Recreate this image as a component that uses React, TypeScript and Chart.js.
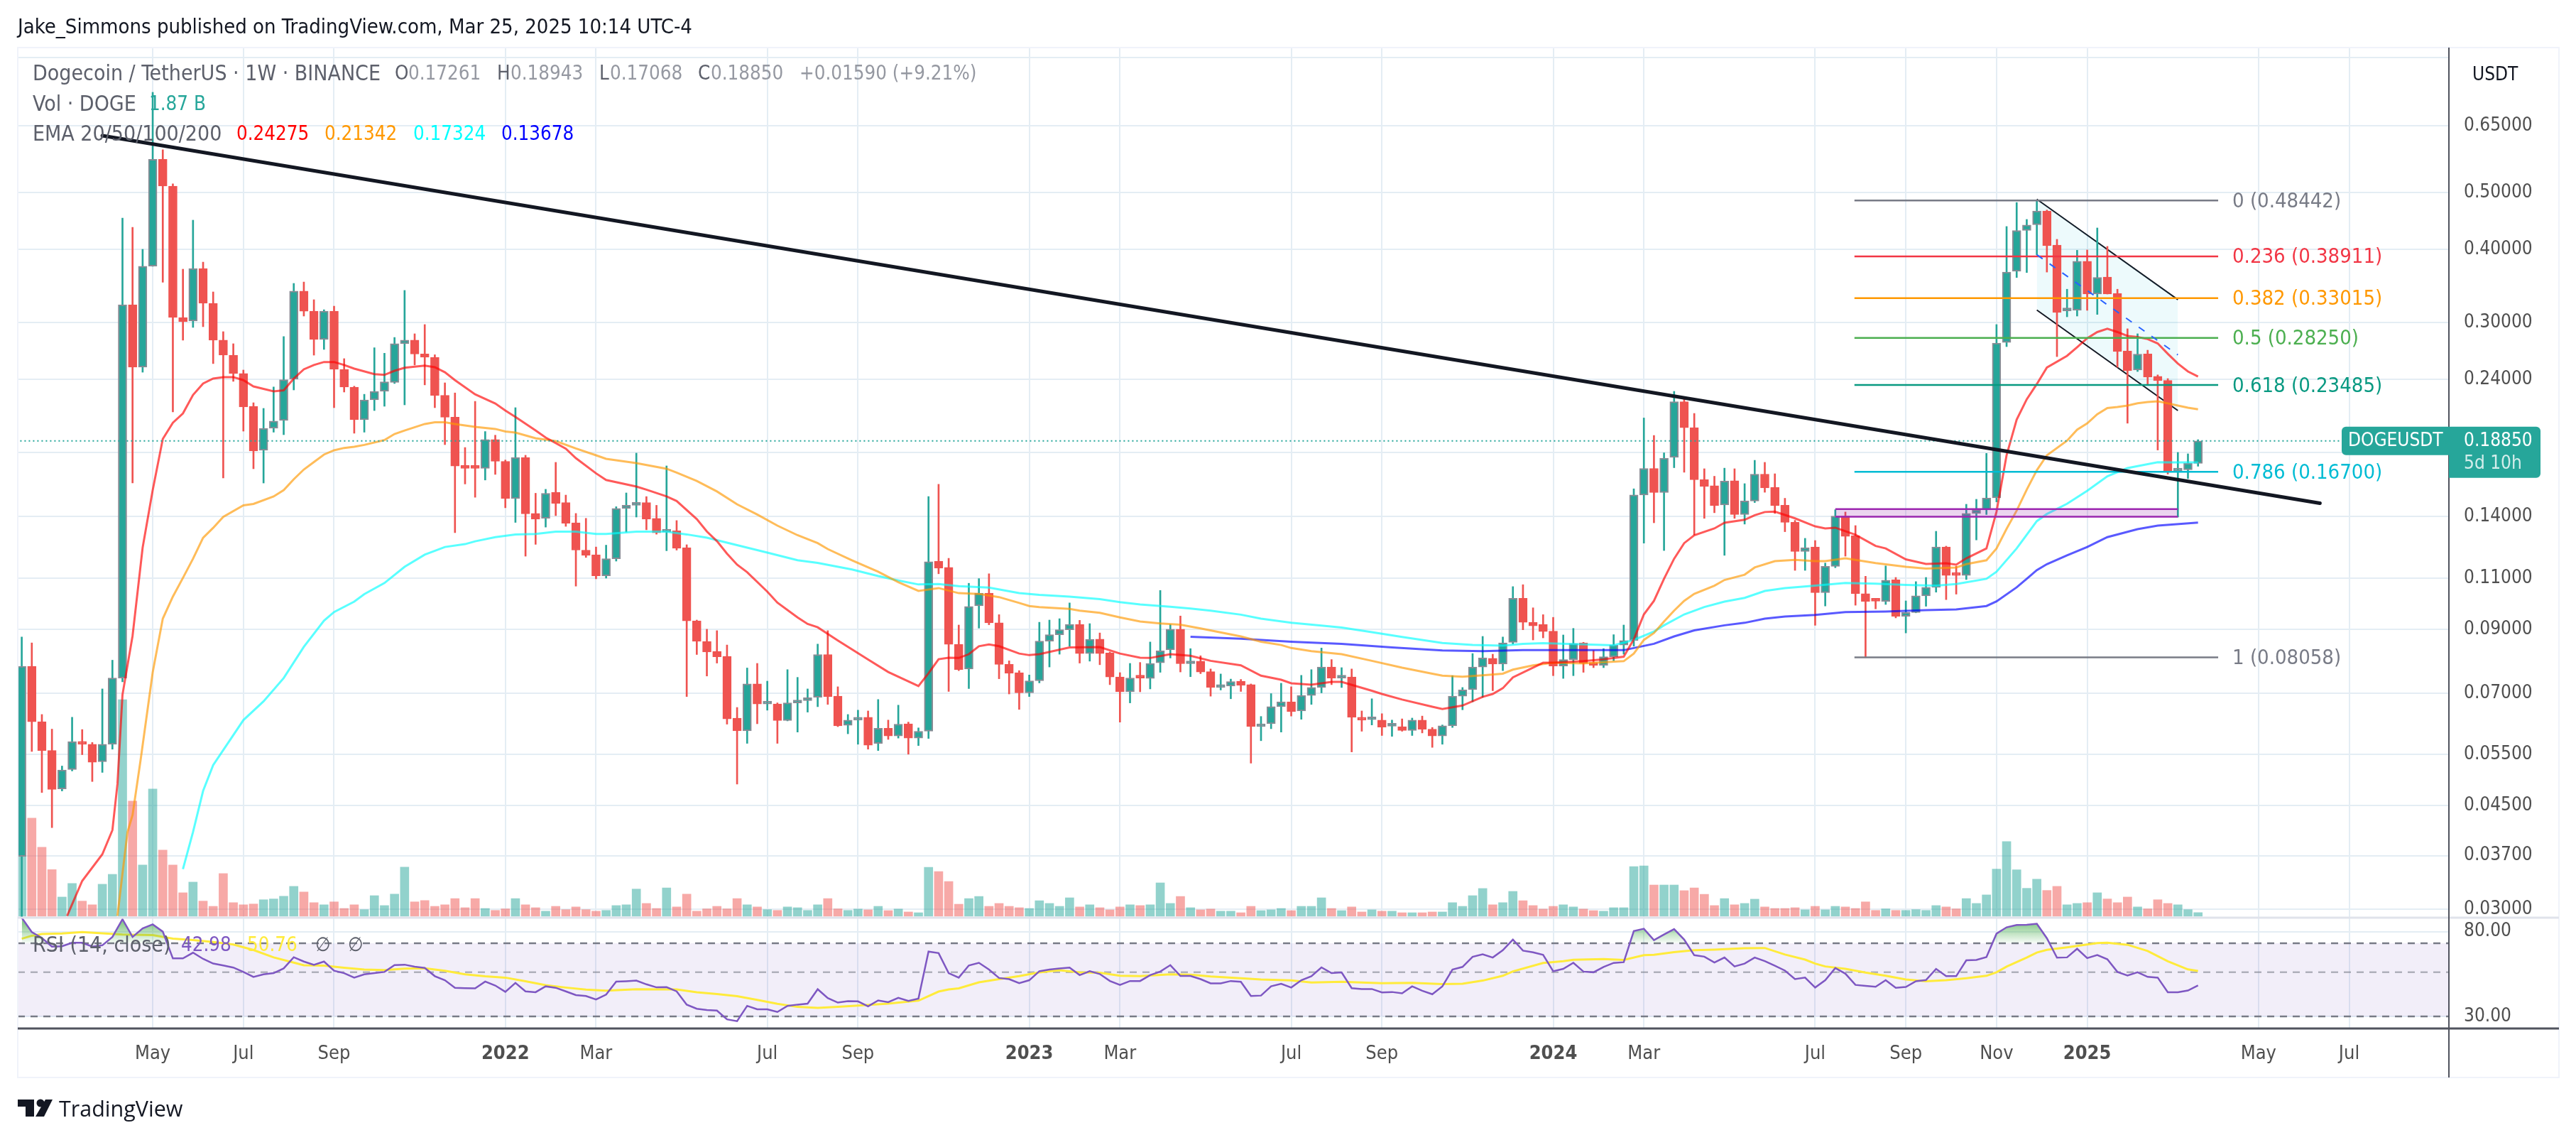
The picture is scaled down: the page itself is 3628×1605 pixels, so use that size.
// Dogecoin / TetherUS weekly: candles, volume, EMAs, fib levels and RSI.
import { useEffect, useRef } from "react";
import { Chart, registerables } from "chart.js";

Chart.register(...registerables);

const WIDTH = 3628;
const HEIGHT = 1605;
const FONT = '"Open Sans", sans-serif';
const TEXT_FONT = '"DejaVu Sans Condensed", "Open Sans", sans-serif';
const GREEN = "#26a69a";
const RED = "#ef5350";

const opens = [
  .0369,.0778,.0626,.0559,.0481,.0519,.0579,.0573,.0535,.0573,
  .0743,.3218,.2518,.3745,.5697,.5127,.3061,.3018,.371,.3236,
  .28,.264,.2456,.216,.1817,.1981,.2043,.2403,.3394,.3138,
  .2807,.3138,.2497,.2329,.2049,.2215,.229,.2372,.2761,.28,
  .2652,.2618,.2254,.2069,.1713,.1699,.1693,.1895,.174,.1503,
  .1767,.1418,.1391,.1541,.148,.1367,.1228,.1206,.111,.1187,
  .1446,.1464,.148,.1391,.1318,.1325,.124,.093,.0858,.0825,
  .0809,.0635,.0604,.0726,.0671,.0671,.0629,.0674,.068,.0689,
  .0815,.0692,.0617,.063,.0637,.0575,.061,.0592,.0621,.0587,
  .0603,.1176,.1147,.0848,.077,.0987,.1037,.0923,.0784,.0759,
  .0701,.0735,.0859,.0881,.0898,.0917,.0818,.0866,.082,.0746,
  .0704,.0746,.0742,.0789,.083,.09,.0786,.0794,.0762,.0716,
  .072,.0734,.0724,.0614,.0621,.0664,.0677,.0653,.0694,.0716,
  .0776,.0743,.0746,.0637,.0631,.063,.0615,.0614,.0605,.063,
  .0608,.0592,.0616,.0692,.071,.0776,.0803,.0785,.0855,.1016,
  .0925,.0917,.0893,.0779,.0799,.0853,.0788,.0781,.0808,.0846,
  .0861,.1525,.1692,.1539,.1767,.2199,.1986,.1619,.1581,.1466,
  .1612,.1412,.1489,.1655,.1571,.1464,.137,.1221,.1243,.1039,
  .1152,.1403,.1299,.1035,.1007,.1004,.1093,.0947,.0961,.1026,
  .1061,.1243,.1117,.1112,.1418,.1438,.1508,.2775,.3669,.4307,
  .4406,.465,.4068,.3142,.315,.3818,.3356,.3588,.3365,.2685,
  .249,.2652,.2429,.2391,.1675,.1683,.17261,
];

const highs = [
  .0873,.0853,.0644,.0608,.0526,.0637,.0607,.0577,.0712,.0797,
  .452,.4362,.4,.741,.5913,.5171,.37,.4485,.3804,.3384,
  .2895,.2761,.249,.219,.2142,.233,.284,.3499,.3518,.3282,
  .3155,.32,.2604,.2337,.2264,.2718,.266,.283,.3404,.2871,
  .2977,.2644,.2368,.2276,.1837,.2202,.1956,.1928,.1749,.2148,
  .1782,.1535,.1559,.1733,.1524,.1418,.1391,.1243,.1252,.1456,
  .1537,.1797,.1515,.1464,.1709,.1379,.1254,.0933,.09,.0895,
  .0846,.0662,.0773,.0787,.0734,.0674,.0768,.0745,.0712,.0849,
  .0895,.0718,.0644,.0655,.0653,.0683,.063,.0668,.0625,.0611,
  .1515,.159,.1189,.0915,.1078,.1098,.1119,.0953,.0795,.0765,
  .0752,.0925,.0933,.0938,.0998,.0932,.092,.0887,.0823,.0759,
  .0787,.079,.0856,.1048,.0917,.0948,.0834,.0811,.077,.0755,
  .074,.0739,.0726,.0639,.0699,.0728,.0718,.0751,.0768,.0836,
  .0799,.0774,.077,.0653,.0685,.0646,.063,.0633,.0635,.064,
  .0612,.0618,.075,.0716,.0818,.0875,.0816,.0873,.1064,.1072,
  .0979,.0953,.0943,.088,.0903,.0855,.0828,.0834,.0881,.0915,
  .1562,.2063,.1926,.1799,.229,.2233,.21,.169,.1641,.1694,
  .169,.1594,.1747,.1733,.1657,.1505,.138,.1286,.1275,.1167,
  .1439,.1426,.1352,.1108,.1013,.1154,.1103,.1006,.1085,.1103,
  .1322,.1247,.1153,.147,.1499,.1795,.2977,.4375,.4807,.4498,
  .4844,.4667,.416,.342,.3985,.399,.435,.4046,.342,.2928,
  .2871,.2692,.2443,.2408,.1802,.1792,.18943,
];

const lows = [
  .028,.0557,.0474,.0413,.0477,.0516,.055,.0495,.0513,.0562,
  .0732,.1598,.2469,.3742,.3515,.2112,.28,.2944,.2952,.2554,
  .163,.2382,.1959,.169,.1598,.1951,.1932,.2303,.3078,.264,
  .27,.2148,.2284,.1943,.1951,.2124,.216,.2362,.2172,.254,
  .2349,.2148,.1858,.1315,.1592,.1511,.1617,.1653,.145,.1369,
  .1199,.1256,.1344,.1406,.1348,.1066,.1193,.1097,.11,.1176,
  .1318,.1398,.133,.1307,.1225,.1228,.0691,.0815,.0749,.0788,
  .062,.049,.0575,.0621,.0655,.0575,.0628,.0601,.065,.0664,
  .067,.0614,.0597,.0573,.0562,.0559,.0584,.0587,.0551,.057,
  .0586,.1119,.0705,.0765,.0713,.0904,.0916,.0741,.0698,.0657,
  .0691,.0729,.0776,.0816,.0842,.0788,.0794,.0783,.0724,.0625,
  .0674,.0704,.0712,.076,.0804,.0761,.0747,.0756,.0692,.0709,
  .0685,.0705,.0532,.0581,.0609,.0601,.064,.0632,.067,.0701,
  .0724,.0716,.0556,.0603,.0618,.0593,.0591,.0603,.0593,.0599,
  .0566,.0573,.0612,.0656,.0677,.0689,.0707,.0765,.0849,.0898,
  .0863,.087,.075,.0742,.075,.076,.0774,.0774,.0795,.0816,
  .0842,.1262,.1367,.1226,.1697,.1667,.1304,.1391,.1422,.1203,
  .1391,.136,.148,.1541,.1418,.132,.1134,.1134,.0914,.0986,
  .1146,.1199,.0989,.0805,.0975,.0992,.0941,.0887,.096,.0985,
  .1041,.1011,.1033,.1094,.1278,.1412,.1484,.273,.3581,.3652,
  .3916,.3658,.2625,.3069,.3078,.3148,.3098,.3356,.2518,.2021,
  .2476,.2345,.1819,.1655,.1398,.1626,.17068,
];

const closes = [
  .0778,.0626,.0559,.048,.0518,.0579,.0573,.0534,.0573,.0743,
  .3218,.2518,.3742,.5697,.5127,.3061,.301,.371,.3236,.28,
  .264,.2456,.2154,.1812,.1981,.2038,.2397,.3394,.3138,.2807,
  .3138,.2497,.2329,.2049,.2215,.229,.2378,.2761,.28,.2652,
  .2618,.2254,.2069,.1708,.1693,.1693,.1895,.174,.1503,.1767,
  .1416,.1387,.1535,.1475,.1365,.1228,.1203,.111,.1187,.1446,
  .1464,.148,.1387,.1314,.1325,.1237,.093,.0858,.0823,.0808,
  .0633,.0604,.0726,.0671,.0674,.0629,.0674,.068,.0688,.0815,
  .0691,.0616,.063,.0637,.0571,.061,.0592,.062,.0587,.0603,
  .1173,.1144,.0848,.0768,.0984,.1037,.0923,.0784,.0757,.0701,
  .0735,.0859,.0881,.0898,.0917,.0818,.0865,.0818,.0746,.0704,
  .0743,.0743,.0787,.0827,.09,.0786,.0794,.0761,.0716,.0721,
  .0733,.0722,.0614,.062,.0664,.0677,.0651,.0694,.0716,.0776,
  .0743,.0747,.0637,.063,.0633,.0613,.0616,.0605,.063,.0608,
  .0592,.0616,.0692,.0709,.0776,.0804,.0785,.0853,.1016,.0925,
  .0912,.0892,.0779,.0799,.0851,.0787,.0781,.0808,.0846,.0861,
  .1525,.1692,.1539,.1762,.2199,.1986,.1619,.1576,.1462,.161,
  .1412,.1489,.1654,.1568,.1462,.1369,.1221,.124,.1039,.1152,
  .1403,.1296,.1035,.1004,.1005,.1091,.0947,.0961,.1026,.1061,
  .1243,.1112,.1112,.1418,.1438,.1507,.2767,.3658,.4307,.44,
  .465,.4057,.3121,.3152,.3818,.3356,.3581,.3356,.2678,.2483,
  .265,.2422,.239,.1675,.1683,.1726,.1885,
];

// billions of DOGE
const volumes = [
  30.6,50.6,35.6,24,9.9,16.9,7.8,5.9,16.5,21.6,
  111.7,59.4,26.4,65.6,34.1,26.4,12.1,17.6,7.8,5.1,
  22,7,5.9,6.3,8.5,8.9,10.3,15.4,12.5,7,
  5.9,7.4,4,5.9,3.4,10.6,5.5,11.4,25.3,7.4,
  8.1,5.1,5.9,9.1,4.4,9.1,4,3,3.8,9.1,
  5.9,4.4,2.6,5.1,3.4,4.8,3.4,2.6,3,5.5,
  5.9,14,6.6,4,14.6,4.8,11.4,2.6,3.8,5.1,
  3.8,9.1,5.9,4.8,3.4,3,4.8,4.4,3,5.9,
  9.1,3.8,3,3.7,3.3,5.1,2.9,3.7,2.2,1.8,
  25.2,23,17.9,6.2,9.1,10.2,5.1,6.6,5.1,4.4,
  4,8,6.6,5.1,9.5,4.8,5.9,4.4,3.3,4.8,
  5.9,5.5,5.9,17.2,6.6,10.2,4.4,3.3,3.7,2.6,
  2.6,1.8,5.1,2.9,3.3,4,2.9,5.1,5.1,9.5,
  4,2.9,4.8,2.2,3.3,2.6,2.6,1.8,1.8,1.8,
  2.2,2.2,7,5.1,10.6,14.3,5.9,7,12.8,8,
  5.5,3.7,5.1,5.9,4.8,3.7,2.9,2.6,4.4,4.4,
  25.6,26,16.1,16.1,16.1,13.2,14.6,11.3,5.5,9.1,
  5.9,6.6,8.8,4.8,4,4,4.4,3.3,5.1,3.3,
  5.1,4.8,4,7.4,3,3.8,3,3,3.4,3,
  5.5,4.8,3.8,9.1,6.6,11,24.3,38.5,23.9,14.4,
  19.1,13.3,15.4,5.9,6.6,7,12.1,8.9,7,9.9,
  4.8,3.8,8.5,6.6,5.9,3.4,1.87,
];

const rsi = [
  94,79.6,74.4,67.3,67.6,70.3,70.3,67.3,68.3,75.2,
  92.3,75.2,83,87,80,58.7,58.7,62.7,58.4,55.3,
  54.1,52.8,50.2,47.4,48.8,49.5,52.3,59.5,56.6,54.5,
  56.6,50.9,49.5,47,48.8,49.5,50.2,54.3,54.6,53.3,
  52.6,47.8,45.6,41.8,41.6,41.5,44.9,42.9,39.9,44.2,
  40.1,39.7,42.5,41.8,40.1,38.4,38,36.5,38.6,44.9,
  45.1,45.4,43.5,42,42.1,40.1,34.4,32.8,32.3,32.1,
  29,28.4,33.9,32.6,32.6,31.6,33.9,34.4,34.8,41.1,
  37.1,35.2,35.8,35.7,33.7,36.1,35.4,37.2,35.9,36.9,
  63.5,62.4,49.5,47,54.1,55.8,51.6,46.8,46.2,44.1,
  45.6,50.6,51.6,52.2,52.8,48.4,50.6,49,45.2,43.2,
  45.2,45.2,48.4,50.4,54.3,47.9,47.9,46.2,44,44,
  45.2,44.8,38,38.2,42.5,43.8,41.9,45.6,47.8,52.9,
  49.5,49.9,41.6,41.2,41.2,39.6,39.8,39.2,42.5,40.4,
  38.8,42.5,51.6,53.2,59.8,61.6,59.3,64.5,73,64.2,
  63,61.2,50.6,52,55.8,50.4,50,53.2,55.7,56.2,
  80.5,82.7,72.5,77.4,82.4,73,60.9,59.9,56,59.3,
  53.5,55.3,59.3,56.9,53.9,51,46.2,47,41.9,45.6,
  52.5,49.2,43.2,42.7,42.3,45.6,41.8,42.2,45.1,45.7,
  52,47.8,47.8,57.4,57.7,59.6,78.2,84.1,86.4,86.6,
  87.6,74.1,59.2,59.4,65.6,58.9,61,58.1,50.2,48.2,
  50,47.4,47,39.7,39.7,40.5,42.98,
];

// [week, value] samples of the slower lines
const rsiMa = [
  [0,73.7],[1,76.3],[2,77.8],[4,78.3],[6,79.6],[8,78.4],[10,77.3],[13,76.9],[15,73.8],[17,72.5],[19,70.9],[21,68.9],[23,64.7],[25,59.4],[27,55.9],[28,54.2],[30,54],[32,52.7],[34,51.6],[36,51.3],[38,52.1],[40,52.4],[42,50.9],[44,48.8],[46,47.7],[48,47],[50,45.1],[52,43.1],[54,41.9],[56,40.9],[58,40.4],[61,41.1],[65,41],[67,39.7],[69,38.9],[71,37.9],[73,36.3],[75,34.7],[77,33.5],[79,33.1],[81,33.5],
  [83,34],[86,34.8],[89,36],[91,40],[92,41],[93,41.5],[95,44.5],[97,46.2],[99,47.8],[101,49.9],[103,51.2],[105,49.9],[107,49.7],[109,48],[111,47.8],[114,48.8],[116,48.6],[118,47.6],[121,46.7],[123,46],[126,45.5],[128,44.4],[131,44.8],[135,44.1],[138,44.2],[141,43.6],[143,43.8],[145,45.4],[147,48],[148,50.5],[151,55.7],[153,56.8],[154,57.8],[157,58.2],[159,57.7],[161,60.9],[162,61.2],[164,63.1],[166,64.6],[168,65],[171,66],[173,66.2],[175,61.4],[177,57.9],[178,55.3],[179,53.5],[181,52],
  [183,49.8],[185,48],[187,46],[189,45.1],[191,45.6],[193,46.7],[195,48],[196,50],[197,53.4],[199,59.3],[200,62.8],[201,64.8],[203,66.7],[205,68.9],[206,70.1],[207,70.3],[209,68.7],[211,64],[213,56.8],[215,51.7],[216,50.76],
];

const ema20 = [
  [4.5,.0292],[6,.0335],[8,.0372],[9,.0409],[9.5,.049],[10,.0696],[11,.0877],[12,.124],[13,.1554],[14,.19],[15,.2025],[16,.21],[17,.2258],[18,.2362],[19,.2408],[20,.2422],[21,.2422],[22,.2393],[23,.2335],[25,.229],[26,.23],[27,.2408],[28,.2497],[29,.254],[30,.257],[31,.257],[32,.254],[33,.2504],[35,.2451],[36,.2443],[37,.2483],[38,.2513],[40,.2533],[41,.2518],[42,.2469],[43,.2393],[45,.2264],[47,.2184],[48,.2124],[49,.2072],[51,.1964],[52,.191],[54,.1829],[55,.1762],[57,.166],[58,.1617],[61,.1576],[62,.1557],[64,.1516],[65,.1489],[67,.1387],[68,.1321],[69,.1272],[70,.1211],[71,.116],[72,.1126],[74,.1043],[75,.0999],[77,.0943],[78,.0919],[79,.0907],[81,.0861],
  [84,.0799],[86,.0761],[89,.072],[90,.0757],[91,.08],[92,.0805],[93,.0804],[94,.0816],[95,.0842],[96,.0848],[97,.0842],[99,.0818],[100,.0813],[101,.0816],[104,.0838],[107,.0839],[109,.0818],[111,.0805],[112,.0804],[114,.0816],[116,.0811],[118,.0795],[121,.0781],[123,.075],[125,.0738],[126,.0728],[128,.0724],[130,.0732],[131,.0732],[134,.0707],[135,.0698],[137,.0683],[140,.0664],[141,.0658],[143,.0667],[145,.069],[146,.0698],[147,.0714],[148,.0745],[151,.0789],[152,.0789],[155,.0794],[157,.08],[159,.0808],
  [160,.0865],[161,.0954],[162,.1006],[163,.1097],[164,.1187],[165,.1262],[166,.1302],[168,.1337],[169,.1367],[171,.1383],[172,.1408],[173,.1426],[174,.1428],[176,.1391],[178,.1348],[179,.1337],[180,.1341],[182,.1304],[184,.1248],[185,.1236],[187,.1184],[189,.1163],[191,.1166],[192,.116],[193,.1189],[195,.1236],[196,.1428],[197,.1783],[198,.205],[199,.222],[200,.2357],[201,.2515],[203,.2633],[204,.2724],[205,.2821],[206,.2891],[207,.2929],[208,.2891],[209,.2847],[210,.2834],[211,.2812],[212,.2764],[213,.2654],[214,.2554],[215,.2476],[216,.24275],
];

const ema50 = [
  [9.5,.0292],[10,.0345],[10.5,.0406],[11,.0434],[11.8,.0539],[13,.076],[14,.0938],[15,.1023],[16,.1101],[17,.1187],[18,.1289],[19,.134],[20,.1399],[22,.1464],[23,.1472],[25,.1516],[26,.1554],[27,.1622],[28,.1685],[29,.1735],[30,.1787],[31,.1817],[32,.1834],[33,.1842],[34,.1856],[36,.1892],[37,.1937],[38,.1964],[40,.2015],[41,.2028],[42,.2028],[43,.2015],[45,.1992],[47,.1976],[48,.1956],[49,.1948],[51,.1905],[53,.1884],[55,.183],[57,.1782],[58,.1757],[61,.1728],[64,.169],[65,.1665],[67,.1611],[69,.1546],[71,.147],[73,.1412],[75,.1352],[77,.1302],[79,.1262],[80,.1233],[82.4,.118],
  [85,.1128],[87,.1083],[89,.1046],[91,.1058],[93,.1037],[95,.1034],[97,.1021],[99,.0998],[100,.0986],[101,.0982],[104,.0975],[105,.0968],[107,.096],[109,.0943],[111,.0928],[113,.0921],[115,.0916],[117,.0903],[121,.0875],[123,.0857],[125,.0846],[126,.0836],[128,.0826],[131,.0816],[134,.0795],[137,.0774],[140,.0756],[141,.075],[143,.0747],[145,.0751],[147,.0756],[148,.0768],[150,.0781],[152,.0789],[155,.0787],[159,.0794],
  [160,.0818],[161,.0863],[162,.0887],[163,.0928],[164,.0968],[165,.1006],[166,.1034],[168,.1068],[169,.1092],[171,.1115],[172,.1147],[174,.1176],[176,.1182],[178,.1176],[179,.1176],[181,.1189],[182,.1182],[184,.1167],[187,.115],[189,.1142],[192,.1147],[193,.1162],[195,.118],[196,.1236],[197,.1335],[198,.1434],[199,.1557],[200,.168],[201,.1782],[203,.1887],[204,.197],[205,.202],[206,.2094],[207,.2145],[208,.2154],[209,.2166],[210,.2185],[211,.2196],[212,.2203],[213,.2185],[214,.2166],[215,.2148],[216,.21342],
];

const ema100 = [
  [16,.0351],[17,.0406],[18,.0477],[19,.0528],[22,.063],[24,.0678],[26,.0743],[28,.084],[30,.0931],[31,.0963],[33,.1003],[34,.1033],[36,.1079],[38,.115],[40,.1206],[42,.1243],[44,.1257],[45,.1271],[47,.1292],[49,.1306],[51,.1308],[53,.132],[55,.132],[57,.1308],[58,.1308],[61,.132],[64,.132],[66,.1306],[68,.1289],[71,.1252],[74,.1216],[77,.118],[79,.1168],[82.4,.1138],
  [85,.1109],[87,.109],[89,.1073],[91,.1075],[93,.1066],[96,.106],[99,.1037],[101,.103],[104,.1023],[107,.1013],[109,.1001],[111,.0992],[114,.0983],[116,.0976],[118,.0968],[121,.0953],[123,.0938],[126,.0923],[129,.0913],[131,.0906],[134,.089],[137,.0873],[141,.0853],[144,.0846],[147,.0844],[149,.085],[151,.0852],[154,.0849],[158,.0845],
  [160,.0863],[162,.0892],[163,.0914],[165,.0954],[167,.0982],[169,.1003],[171,.1018],[173,.1046],[175,.1058],[178,.1068],[181,.1079],[184,.1076],[187,.1071],[190,.1068],[192,.1075],[195,.1097],[196,.1128],[198,.1236],[199,.1304],[200,.1376],[201,.1415],[203,.1473],[205,.155],[207,.1641],[209,.1695],[212,.1734],[214,.1733],[216,.17324],
];

const ema200 = [
  [116,.0874],[121,.0867],[126,.0857],[131,.085],[136,.0838],[141,.0828],[145,.0826],[149,.0829],[154,.0829],[159,.0829],[162,.085],[164,.0875],[166,.0896],[169,.0914],[171,.0923],[173,.0938],[175,.0946],[178,.0952],[181,.0963],[185,.0965],[189,.097],[192,.0973],[195,.0986],[196,.1004],[198,.1061],[199,.1097],[200,.1135],[201,.1162],[203,.1203],[205,.1243],[207,.1292],[210,.1333],[212,.1352],[216,.13678],
];

const fibRatios = ["0", "0.236", "0.382", "0.5", "0.618", "0.786", "1"];
const fibValues = [0.48442, 0.38911, 0.33015, 0.2825, 0.23485, 0.167, 0.08058];
const fibColors = ["#787b86", "#f23645", "#ff9800", "#4caf50", "#089981", "#00bcd4", "#787b86"];
const fibWeeks = [181.9, 218];

const trendLine = [[8, 0.625], [228.1, 0.1476]];
const channelTop = [[200, 0.487], [214, 0.3283]];
const channelBottom = [[200, 0.3152], [214, 0.2124]];
const channelMiddle = [[200, 0.3916], [214, 0.2643]];
const supportWeeks = [180, 214];
const supportBand = [0.14, 0.1442];

const lastPrice = 0.1885;
const priceTicks = [0.85, 0.65, 0.5, 0.4, 0.3, 0.24, 0.18, 0.14, 0.11, 0.09, 0.07, 0.055, 0.045, 0.037, 0.03];
const hiddenPriceTicks = [0.85, 0.18];
const rsiTicks = [80, 30];
const rsiLevels = [70, 50, 30];
const monthWeeks = [13, 22, 31, 48, 57, 74, 83, 100, 109, 126, 135, 152, 161, 178, 187, 196, 205, 222, 231];
const monthLabels = ["May", "Jul", "Sep", "2022", "Mar", "Jul", "Sep", "2023", "Mar", "Jul", "Sep", "2024", "Mar", "Jul", "Sep", "Nov", "2025", "May", "Jul"];

const toPoints = (rows: number[][]) => rows.map(([x, y]) => ({ x, y }));
const flatLine = (weeks: number[], y: number) => weeks.map((x) => ({ x, y }));
const isUp = (i: number) => closes[i] >= opens[i];

const overlayLine = (data: any[], color: string, width: number, extra: any = {}) => ({
  type: "line",
  data,
  borderColor: color,
  borderWidth: width,
  pointRadius: 0,
  tension: 0,
  xAxisID: "x",
  yAxisID: "yPrice",
  ...extra,
});

function buildDatasets(greenFade: CanvasGradient) {
  const list: any[] = [];
  list.push({
    type: "bar",
    data: volumes.map((y, x) => ({ x, y })),
    backgroundColor: volumes.map((_, i) => (isUp(i) ? "rgba(38,166,154,0.5)" : "rgba(239,83,80,0.5)")),
    barThickness: 12,
    grouped: false,
    xAxisID: "x",
    yAxisID: "yVol",
  });
  list.push(overlayLine(toPoints(channelTop), "#131722", 2));
  list.push(overlayLine(toPoints(channelBottom), "#131722", 2, { fill: "-1", backgroundColor: "rgba(0,188,212,0.07)" }));
  list.push({
    type: "bar",
    data: highs.map((h, x) => ({ x, y: [lows[x], h] })),
    backgroundColor: highs.map((_, i) => (isUp(i) ? GREEN : RED)),
    barThickness: 2,
    grouped: false,
    xAxisID: "x",
    yAxisID: "yPrice",
  });
  list.push({
    type: "bar",
    data: opens.map((o, x) => ({ x, y: [o, closes[x]] })),
    backgroundColor: opens.map((_, i) => (isUp(i) ? GREEN : RED)),
    borderColor: opens.map((_, i) => (isUp(i) ? "#878b94" : RED)),
    borderWidth: 2,
    borderSkipped: false,
    minBarLength: 4,
    barThickness: 12,
    grouped: false,
    xAxisID: "x",
    yAxisID: "yPrice",
  });
  list.push(overlayLine(toPoints(ema200), "rgba(0,0,255,0.65)", 3));
  list.push(overlayLine(toPoints(ema100), "rgba(0,255,255,0.65)", 3));
  list.push(overlayLine(toPoints(ema50), "rgba(255,152,0,0.65)", 3));
  list.push(overlayLine(toPoints(ema20), "rgba(255,0,0,0.65)", 3));
  fibValues.forEach((v, i) => list.push(overlayLine(flatLine(fibWeeks, v), fibColors[i], 2.5)));
  list.push(overlayLine(flatLine(supportWeeks, supportBand[0]), "#9c27b0", 2.5));
  list.push(overlayLine(flatLine(supportWeeks, supportBand[1]), "#9c27b0", 2.5, {
    fill: { target: { value: supportBand[0] }, above: "rgba(156,39,176,0.2)", below: "rgba(156,39,176,0.2)" },
  }));
  list.push(overlayLine(toPoints(channelMiddle), "#2962ff", 2, { borderDash: [10, 12] }));
  list.push(overlayLine(flatLine([-1, 241], lastPrice), GREEN, 2, { borderDash: [2, 4] }));
  list.push(overlayLine(toPoints(trendLine), "#131722", 5, { borderCapStyle: "round" }));
  list.push({
    type: "line",
    data: toPoints(rsiMa),
    borderColor: "#ffeb3b",
    borderWidth: 3,
    pointRadius: 0,
    tension: 0,
    xAxisID: "x",
    yAxisID: "yRsi",
  });
  list.push({
    type: "line",
    data: rsi.map((y, x) => ({ x, y })),
    borderColor: "#7e57c2",
    borderWidth: 2.5,
    pointRadius: 0,
    tension: 0,
    fill: { target: { value: rsiLevels[0] }, above: greenFade, below: "rgba(0,0,0,0)" },
    xAxisID: "x",
    yAxisID: "yRsi",
  });
  list.forEach((d, i) => { d.order = list.length - i; });
  return list;
}

// labels run a little wider than the digits in the original, so two sizes
const LABEL_FONT = `30px ${TEXT_FONT}`;
const VALUE_FONT = `27.5px ${TEXT_FONT}`;

function drawRow(ctx: CanvasRenderingContext2D, y: number, parts: [string, number, string, string?][]) {
  ctx.textBaseline = "middle";
  ctx.textAlign = "left";
  parts.forEach(([text, x, color, font]) => {
    if (font) ctx.font = font;
    ctx.fillStyle = color;
    ctx.fillText(text, x, y);
  });
}

// RSI band goes under the lines, everything textual goes on top
const panePlugin = {
  id: "panes",
  beforeDatasetsDraw(chart: any) {
    const { ctx, chartArea } = chart;
    const scale = chart.scales.yRsi;
    const top = scale.getPixelForValue(rsiLevels[0]);
    const bottom = scale.getPixelForValue(rsiLevels[2]);
    ctx.save();
    ctx.fillStyle = "rgba(126,87,194,0.1)";
    ctx.fillRect(chartArea.left, top, chartArea.right - chartArea.left, bottom - top);
    rsiLevels.forEach((level, i) => {
      const y = scale.getPixelForValue(level);
      ctx.strokeStyle = i === 1 ? "rgba(120,123,134,0.55)" : "#787b86";
      ctx.lineWidth = 2.5;
      ctx.setLineDash([10, 8]);
      ctx.beginPath();
      ctx.moveTo(chartArea.left, y);
      ctx.lineTo(chartArea.right, y);
      ctx.stroke();
    });
    ctx.restore();
  },
  afterDraw(chart: any) {
    const { ctx, chartArea } = chart;
    const price = chart.scales.yPrice;
    const grey = "#5d606b";
    const soft = "#9598a1";
    ctx.save();

    // frame and pane separators
    ctx.strokeStyle = "#f0f3fa";
    ctx.lineWidth = 2;
    ctx.strokeRect(25, 67, 3579, 1450);
    ctx.strokeStyle = "#e0e3eb";
    ctx.lineWidth = 3;
    ctx.beginPath();
    ctx.moveTo(25, 1292);
    ctx.lineTo(3604, 1292);
    ctx.stroke();
    ctx.strokeStyle = "#50535e";
    ctx.beginPath();
    ctx.moveTo(25, chartArea.bottom);
    ctx.lineTo(3604, chartArea.bottom);
    ctx.stroke();
    ctx.lineWidth = 2;
    ctx.beginPath();
    ctx.moveTo(chartArea.right, 67);
    ctx.lineTo(chartArea.right, 1517);
    ctx.stroke();

    drawRow(ctx, 39, [["Jake_Simmons published on TradingView.com, Mar 25, 2025 10:14 UTC-4", 25, "#131722", `29px ${TEXT_FONT}`]]);
    drawRow(ctx, 105, [
      ["Dogecoin / TetherUS · 1W · BINANCE", 46, grey, LABEL_FONT],
      ["O", 556, grey, VALUE_FONT], ["0.17261", 575, soft],
      ["H", 700, grey], ["0.18943", 719, soft],
      ["L", 844, grey], ["0.17068", 859, soft],
      ["C", 983, grey], ["0.18850", 1001, soft],
      ["+0.01590 (+9.21%)", 1126, soft],
    ]);
    drawRow(ctx, 148, [["Vol · DOGE", 46, grey, LABEL_FONT], ["1.87 B", 210, GREEN, VALUE_FONT]]);
    drawRow(ctx, 190, [
      ["EMA 20/50/100/200", 46, grey, LABEL_FONT],
      ["0.24275", 333, "#ff0000", VALUE_FONT], ["0.21342", 457, "#ff9800"],
      ["0.17324", 582, "#00ffff"], ["0.13678", 706, "#0000ff"],
    ]);
    drawRow(ctx, 1332, [
      ["RSI (14, close)", 46, grey, LABEL_FONT],
      ["42.98", 255, "#7e57c2", VALUE_FONT], ["50.76", 348, "#ffeb3b"],
      ["∅", 444, grey], ["∅", 490, grey],
    ]);
    drawRow(ctx, 106, [["USDT", 3482, "#131722", `26px ${TEXT_FONT}`]]);

    ctx.font = `29px ${TEXT_FONT}`;
    fibRatios.forEach((ratio, i) => {
      const label = `${ratio} (${fibValues[i].toFixed(5)})`;
      drawRow(ctx, price.getPixelForValue(fibValues[i]) + 2, [[label, 3144, fibColors[i]]]);
    });

    // last price tag
    ctx.font = `26px ${TEXT_FONT}`;
    const tagY = price.getPixelForValue(lastPrice);
    ctx.fillStyle = GREEN;
    ctx.beginPath();
    ctx.roundRect(3298, tagY - 20, 151, 40, [6, 0, 0, 6]);
    ctx.fill();
    ctx.beginPath();
    ctx.roundRect(3449, tagY - 20, 129, 72, [0, 6, 6, 0]);
    ctx.fill();
    drawRow(ctx, tagY, [["DOGEUSDT", 3307, "#ffffff"], [lastPrice.toFixed(5), 3470, "#ffffff"]]);
    drawRow(ctx, tagY + 32, [["5d 10h", 3470, "rgba(255,255,255,0.8)"]]);

    // TradingView mark
    ctx.fillStyle = "#131722";
    ctx.fillRect(25, 1548, 23, 10);
    ctx.fillRect(36, 1548, 12, 24);
    ctx.beginPath();
    ctx.arc(57, 1553, 5.5, 0, Math.PI * 2);
    ctx.fill();
    ctx.beginPath();
    ctx.moveTo(64, 1548);
    ctx.lineTo(74, 1548);
    ctx.lineTo(62, 1572);
    ctx.lineTo(50, 1572);
    ctx.closePath();
    ctx.fill();
    ctx.font = `500 30.5px ${FONT}`;
    drawRow(ctx, 1563, [["TradingView", 83, "#131722"]]);
    ctx.restore();
  },
};

export default function App() {
  const ref = useRef<HTMLCanvasElement>(null);

  useEffect(() => {
    if (!ref.current) return;
    const ctx = ref.current.getContext("2d")!;
    const greenFade = ctx.createLinearGradient(0, 1300, 0, 1329);
    greenFade.addColorStop(0, "rgba(76,175,80,0.65)");
    greenFade.addColorStop(1, "rgba(76,175,80,0.02)");

    const gridColor = "#e4edf4";
    const axisTicks = { color: "#4f4f4f", font: { family: TEXT_FONT, size: 26 }, padding: 21, autoSkip: false, align: "center" };

    const chart = new Chart(ref.current, {
      data: { datasets: buildDatasets(greenFade) },
      plugins: [panePlugin],
      options: {
        animation: false,
        responsive: false,
        devicePixelRatio: 1,
        layout: { padding: { left: 25, top: 67, right: 24, bottom: 88 } },
        plugins: { legend: { display: false }, tooltip: { enabled: false } },
        scales: {
          x: {
            type: "linear",
            offset: false,
            min: -0.395,
            max: 240.9,
            grid: { color: gridColor, lineWidth: 2, drawTicks: false, offset: false },
            border: { display: false },
            ticks: {
              color: "#4f4f4f",
              padding: 20,
              maxRotation: 0,
              autoSkip: false,
              font: (c: any) => ({
                family: TEXT_FONT,
                size: 27,
                weight: /^20/.test(c.tick?.label ?? "") ? "bold" : "normal",
              }),
              callback: (v: number) => monthLabels[monthWeeks.indexOf(v)] ?? "",
            },
            afterBuildTicks: (s: any) => { s.ticks = monthWeeks.map((value) => ({ value })); },
            afterFit: (s: any) => { s.height = 69; },
          },
          yPrice: {
            type: "logarithmic",
            position: "right",
            stack: "panes",
            stackWeight: 1225,
            min: 0.029,
            max: 0.8832,
            grid: { color: gridColor, lineWidth: 2, drawTicks: false },
            border: { display: false },
            ticks: {
              ...axisTicks,
              callback: (v: number) => (hiddenPriceTicks.includes(v) ? "" : v.toFixed(5)),
            },
            afterBuildTicks: (s: any) => { s.ticks = priceTicks.map((value) => ({ value })); },
            afterFit: (s: any) => { s.width = 155; },
          },
          yRsi: {
            type: "logarithmic",
            position: "right",
            stack: "panes",
            stackWeight: 156,
            min: 26.1,
            max: 94,
            grid: { color: gridColor, lineWidth: 2, drawTicks: false },
            border: { display: false },
            ticks: { ...axisTicks, callback: (v: number) => v.toFixed(2) },
            afterBuildTicks: (s: any) => { s.ticks = rsiTicks.map((value) => ({ value })); },
            afterFit: (s: any) => { s.width = 155; },
          },
          // hidden scale, volume sits in the bottom of the price pane
          yVol: {
            type: "linear",
            position: "right",
            display: false,
            min: -57.9,
            max: 448,
          },
        },
      },
    } as any);
    return () => chart.destroy();
  }, []);

  return (
    <canvas
      ref={ref}
      width={WIDTH}
      height={HEIGHT}
      style={{ position: "absolute", left: 0, top: 0, display: "block" }}
      role="img"
      aria-label="Dogecoin / TetherUS weekly chart"
    />
  );
}
